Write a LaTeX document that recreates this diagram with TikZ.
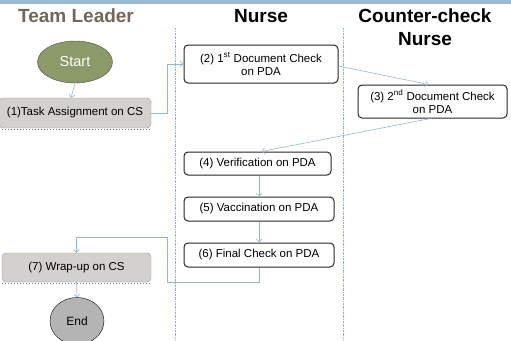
\documentclass[tikz,border=0pt]{standalone}
\usepackage{fontspec}
\setmainfont{Liberation Sans}
\usetikzlibrary{arrows.meta,shapes.geometric}
\definecolor{barblue}{HTML}{9DBAD5}
\definecolor{laneblue}{HTML}{8DB3D9}
\definecolor{flowblue}{HTML}{93B8DC}
\definecolor{leadbrown}{HTML}{76655A}
\definecolor{startgreen}{HTML}{8C9A6A}
\definecolor{csgray}{HTML}{D3D0CD}
\definecolor{endgray}{HTML}{B4B4B4}
\begin{document}
\begin{tikzpicture}[x=1pt,y=-1pt,
    title/.style={font=\fontsize{19}{23}\selectfont\bfseries,align=center},
    pdabox/.style={draw=black!85,line width=1pt,rounded corners=4pt,fill=white,align=center,
        font=\fontsize{11.5}{13}\selectfont,inner sep=1pt},
    csbox/.style={draw=gray!80,fill=csgray,rounded corners=4pt,
        font=\fontsize{11.5}{13}\selectfont,inner sep=1pt},
    flow/.style={draw=flowblue,line width=0.6pt,-{Straight Barb[length=3pt,width=6pt]}},
    lane/.style={draw=laneblue,line width=0.6pt,dash pattern=on 2pt off 1pt on 0.5pt off 1pt}]
    \useasboundingbox (0,0) rectangle (511,340);
    % Header bar and lanes
    \fill[barblue] (0,0) rectangle (511,4);
    \draw[lane] (175,28) -- (175,340);
    \draw[lane] (343,28) -- (343,340);
    % Lane titles
    \node[title,text=leadbrown] (leadtitle) at (76,16) {Team Leader};
    \node[title] (nursetitle) at (261,16) {Nurse};
    \node[title] (checktitle) at (425,27) {Counter-check\\Nurse};
    % Steps
    \node[ellipse,draw=black!70,fill=startgreen,text=white,minimum width=75pt,minimum height=42pt,
        font=\fontsize{14.5}{16}\selectfont] (start) at (75,62) {Start};
    \node[csbox,minimum width=152pt,minimum height=30pt] (t1) at (75,113) {(1)Task Assignment on CS};
    \node[pdabox,minimum width=154pt,minimum height=38pt] (t2) at (261,64) {(2) 1\textsuperscript{st} Document Check\\on PDA};
    \node[pdabox,minimum width=149pt,minimum height=33pt] (t3) at (432.5,101.5) {(3) 2\textsuperscript{nd} Document Check\\on PDA};
    \node[pdabox,minimum width=147pt,minimum height=23pt] (t4) at (257.5,163.5) {(4) Verification on PDA};
    \node[pdabox,minimum width=150pt,minimum height=24pt] (t5) at (259,209) {(5) Vaccination on PDA};
    \node[pdabox,minimum width=150pt,minimum height=24pt] (t6) at (259,255) {(6) Final Check on PDA};
    \node[csbox,minimum width=149pt,minimum height=29pt] (t7) at (76.5,267.5) {(7) Wrap-up on CS};
    \node[ellipse,draw=black,fill=endgray,minimum width=54pt,minimum height=47pt,
        font=\fontsize{12}{14}\selectfont] (end) at (77,321) {End};
    % Shadow edges of the CS steps
    \draw[gray,dotted,line width=1pt] ([yshift=-1.2pt]t1.south west) -- ([yshift=-1.2pt]t1.south east);
    \draw[gray,dotted,line width=1pt] ([yshift=-1.2pt]t7.south west) -- ([yshift=-1.2pt]t7.south east);
    % Flow
    \draw[flow] (start.south) -- ([xshift=-4pt]t1.north);
    \draw[flow] (t1.east) -- ++(16,0) |- (t2.west);
    \draw[flow] ([yshift=-2pt]t2.east) -- ([xshift=-4pt]t3.north);
    \draw[flow] ([xshift=-2pt]t3.south) -- ([xshift=4pt]t4.north);
    \draw[flow] (t5.north |- t4.south) -- (t5.north);
    \draw[flow] (t5.south) -- (t6.north);
    \draw[flow] (t6.south) -- ++(0,15) -- ++(-92,0) -- ++(0,-45) -| (t7.north);
    \draw[flow] (t7.south) -- (end.north);
\end{tikzpicture}
\end{document}
